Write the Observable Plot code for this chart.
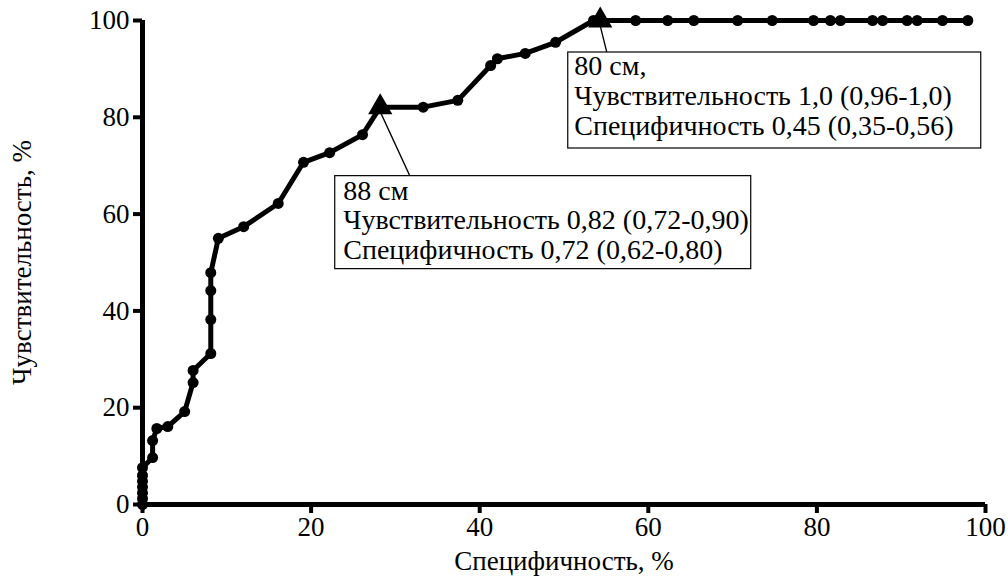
<!DOCTYPE html>
<html>
<head>
<meta charset="utf-8">
<script src="https://cdn.jsdelivr.net/npm/d3@7"></script>
<script src="https://cdn.jsdelivr.net/npm/@observablehq/plot@0.6"></script>
<style>
  html, body { margin: 0; padding: 0; background: white; }
</style>
</head>
<body>
<div id="chart"></div>
<script>
// ROC curve points (x: "Специфичность, %" axis, y: "Чувствительность, %")
const specificity = [0, 0, 0, 0, 0, 0, 0, 1.2, 1.2, 1.7, 3.0, 5.0, 6.0, 6.0, 8.1, 8.1, 8.1, 8.1, 9.0, 12.0, 16.1, 19.1, 22.2, 26.1, 28.2, 33.3, 37.4, 41.3, 42.1, 45.4, 49.0, 53.5, 54.3, 58.5, 62.3, 65.4, 70.6, 74.7, 79.6, 81.6, 82.8, 86.6, 87.8, 90.7, 91.9, 94.9, 97.9];
const sensitivity = [0, 1.2, 2.4, 3.6, 4.8, 6.0, 7.6, 9.7, 13.2, 15.7, 16.1, 19.2, 25.2, 27.7, 31.2, 38.2, 44.2, 47.9, 55.0, 57.4, 62.2, 70.7, 72.7, 76.4, 82.1, 82.1, 83.5, 90.7, 92.1, 93.2, 95.5, 100, 100, 100, 100, 100, 100, 100, 100, 100, 100, 100, 100, 100, 100, 100, 100];

// Cut-off points (triangles) and their annotations
const cutX = [28.2, 54.3];
const cutY = [82.1, 100];
const cutLabels = [
  "88 см\nЧувствительность 0,82 (0,72-0,90)\nСпецифичность 0,72 (0,62-0,80)",
  "80 см,\nЧувствительность 1,0 (0,96-1,0)\nСпецифичность 0,45 (0,35-0,56)"
];

const xTicks = [0, 20, 40, 60, 80, 100];
const yTicks = [0, 20, 40, 60, 80, 100];
const xLabel = "Специфичность, %";
const yLabel = "Чувствительность, %";

const FONT = "Liberation Serif";

const pts = specificity.map((x, i) => ({x, y: sensitivity[i]}));
const isCut = (d) => cutX.some((cx, j) => cx === d.x && cutY[j] === d.y);
const dots = pts.filter(d => !isCut(d));
const cuts = cutX.map((x, i) => ({x, y: cutY[i], text: cutLabels[i]}));

// annotation box styling (pixel offsets relative to the cut-off marker)
const boxStyle = [
  {dx: -37, dy: 72, left: -45, top: 69, w: 416, h: 93, leader: 30},
  {dx: -26, dy: 33, left: -32, top: 32, w: 413, h: 96, leader: 7}
];

const chart = Plot.plot({
  width: 1008,
  height: 577,
  marginLeft: 142,
  marginRight: 23,
  marginTop: 20,
  marginBottom: 73,
  x: {domain: [0, 100]},
  y: {domain: [0, 100]},
  marks: [
    Plot.axisX(xTicks, {tickSize: 9, tickPadding: 3, strokeWidth: 4, fontSize: 27, fontFamily: FONT, label: null}),
    Plot.axisY(yTicks, {tickSize: 9, tickPadding: 4, strokeWidth: 4, fontSize: 27, fontFamily: FONT, label: null}),
    Plot.ruleY([0], {strokeWidth: 5}),
    Plot.ruleX([0], {strokeWidth: 5}),
    Plot.line(pts, {x: "x", y: "y", strokeWidth: 5, strokeLinejoin: "round"}),
    Plot.dot(dots, {x: "x", y: "y", r: 5.5, fill: "black", stroke: "none"}),
    Plot.dot(cuts, {x: "x", y: "y", symbol: "triangle", r: 9, fill: "black", stroke: "none"}),
    Plot.text(cuts.slice(0, 1), {x: "x", y: "y", text: "text", textAnchor: "start", lineAnchor: "top", dx: boxStyle[0].dx, dy: boxStyle[0].dy, fontSize: 28, fontFamily: FONT, lineHeight: 1.05}),
    Plot.text(cuts.slice(1, 2), {x: "x", y: "y", text: "text", textAnchor: "start", lineAnchor: "top", dx: boxStyle[1].dx, dy: boxStyle[1].dy, fontSize: 28, fontFamily: FONT, lineHeight: 1.07}),
    Plot.text([yLabel], {frameAnchor: "left", textAnchor: "middle", lineAnchor: "middle", rotate: -90, dx: -120, fontSize: 27, fontFamily: FONT}),
    Plot.text([xLabel], {frameAnchor: "bottom", textAnchor: "middle", lineAnchor: "middle", dy: 57, fontSize: 27, fontFamily: FONT})
  ]
});

document.getElementById("chart").appendChild(chart);

// Boxes behind the annotations and leader lines to the cut-off triangles
const ns = "http://www.w3.org/2000/svg";
const sx = chart.scale("x"), sy = chart.scale("y");
const textGroups = Array.from(chart.querySelectorAll("g")).filter(g => {
  const t = g.querySelector("text");
  return t && t.textContent.includes("Специфичность 0,");
});
cuts.forEach((c, i) => {
  const s = boxStyle[i];
  const px = sx.apply(c.x), py = sy.apply(c.y);
  const rect = document.createElementNS(ns, "rect");
  rect.setAttribute("x", px + s.left);
  rect.setAttribute("y", py + s.top);
  rect.setAttribute("width", s.w);
  rect.setAttribute("height", s.h);
  rect.setAttribute("fill", "white");
  rect.setAttribute("stroke", "black");
  rect.setAttribute("stroke-width", "1.2");
  const g = textGroups[i];
  if (g) chart.insertBefore(rect, g); else chart.appendChild(rect);
  const path = document.createElementNS(ns, "path");
  path.setAttribute("d", `M${px},${py + 4}L${px + s.leader},${py + s.top}`);
  path.setAttribute("stroke", "black");
  path.setAttribute("stroke-width", "1.3");
  path.setAttribute("fill", "none");
  chart.appendChild(path);
});
</script>
</body>
</html>
